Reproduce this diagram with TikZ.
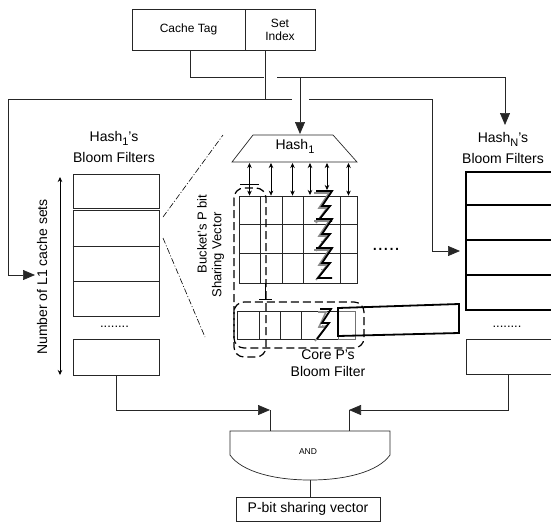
\documentclass[tikz,border=0pt]{standalone}
\usepackage{fontspec}
\setmainfont{Liberation Sans}
\usetikzlibrary{arrows.meta}
\begin{document}
\begin{tikzpicture}[x=1pt,y=-1pt,
  ln/.style={line width=0.7pt, draw=black!85},
  box/.style={draw=black!85, line width=0.7pt, inner sep=0pt},
  tbox/.style={draw=black, line width=1.6pt, inner sep=0pt},
  cell/.style={draw=black!85, line width=0.8pt, inner sep=0pt},
  big/.style={-{Triangle[length=12pt,width=10pt]}, line width=0.7pt, draw=black!85},
  dbl/.style={{Stealth[length=5pt,width=4.5pt]}-{Stealth[length=5pt,width=4.5pt]}, line width=0.6pt},
  lbl/.style={font=\fontsize{14}{21}\selectfont, align=center, inner sep=0pt},
  dashbox/.style={dash pattern=on 8pt off 4pt, line width=1.2pt, rounded corners=10pt},
  ddot/.style={dash pattern=on 6pt off 2pt on 1pt off 2pt, line width=0.6pt},
  bolt/.style={line width=1.8pt, line join=miter},
  shade/.style={line width=1.6pt, draw=black!45}
]
\useasboundingbox (0,0) rectangle (551,523);
\clip (0,0) rectangle (551,523);

% address fields
\node[box, minimum width=113pt, minimum height=41pt, font=\fontsize{12}{14}\selectfont] (tag) at (188.5,30) {\raisebox{3pt}{Cache Tag}};
\node[box, minimum width=70pt, minimum height=41pt, align=center, font=\fontsize{12}{13}\selectfont] (idx) at (280,30) {Set\\Index};
\coordinate (idxout) at (265.5,51);
\coordinate (tagout) at (190,51);

% left bloom filters
\node[lbl] (l1lab) at (114,147) {Hash\raisebox{-4pt}{\fontsize{11}{11}\selectfont 1}'s\\Bloom Filters};
\node[box, minimum width=86pt, minimum height=34pt] (lb1) at (116,191) {};
\node[box, minimum width=86pt, minimum height=36pt] (lb2) at (116,228) {};
\node[box, minimum width=86pt, minimum height=35pt] (lb3) at (116,263.5) {};
\node[box, minimum width=86pt, minimum height=35pt] (lb4) at (116,298.5) {};
\node[box, minimum width=86pt, minimum height=36pt] (lbN) at (116,357) {};
\draw[line width=1.4pt, black!85] (lb2.south west) -- (lb2.south east);
\node[font=\fontsize{13}{13}\selectfont, inner sep=0pt, anchor=base] (ldots) at (114.5,327) {........};
\draw[dbl] (60,177) -- (60,375);
\node[rotate=90, font=\fontsize{14}{14}\selectfont, inner sep=0pt] (nl1) at (42,277) {Number of L1 cache sets};

% right bloom filters
\node[lbl] (rlab) at (503,148) {Hash\raisebox{-4pt}{\fontsize{11}{11}\selectfont N}'s\\Bloom Filters};
\node[tbox, minimum width=90pt, minimum height=33pt] (rb1) at (511,188.5) {};
\node[tbox, minimum width=90pt, minimum height=35pt] (rb2) at (511,222.5) {};
\node[tbox, minimum width=90pt, minimum height=35pt] (rb3) at (511,257.5) {};
\node[tbox, minimum width=90pt, minimum height=35pt] (rb4) at (511,292.5) {};
\node[box, minimum width=90pt, minimum height=35pt] (rbN) at (511,356.5) {};
\node[font=\fontsize{13}{13}\selectfont, inner sep=0pt, anchor=base] (rdots) at (507,327) {........};

% Hash1 trapezoid
\coordinate (t1) at (253,135);
\coordinate (t2) at (333,135);
\coordinate (t3) at (357,162);
\coordinate (t4) at (232,162);
\draw[ln] (t1) -- (t2) -- (t3) -- (t4) -- cycle;
\node[font=\fontsize{14}{14}\selectfont, inner sep=0pt] (h1) at (295,146) {Hash\raisebox{-4pt}{\fontsize{11}{11}\selectfont 1}};
\coordinate (h1top) at (300,134);
\coordinate (h1bot) at (300,163);

% bucket grid
\foreach \r/\y/\h in {1/210/28, 2/238.5/29, 3/268/30} {
  \node[cell, minimum width=21pt, minimum height=\h pt] (c1-\r) at (249.5,\y) {};
  \node[cell, minimum width=22pt, minimum height=\h pt] (c2-\r) at (271,\y) {};
  \node[cell, minimum width=21pt, minimum height=\h pt] (c3-\r) at (292.5,\y) {};
  \node[cell, minimum width=17pt, minimum height=\h pt] (c6-\r) at (348.5,\y) {};
}
\foreach \y in {196,224,253,283} \draw[ln] (303,\y) -- (340,\y);
\foreach \t in {196,224,253} {
  \draw[shade] (314,{\t-3}) -- (329,{\t-3}) -- (319,{\t+12}) -- (327,{\t+12}) -- (316,{\t+27});
  \draw[bolt] (316,{\t-5}) -- (332,{\t-5}) -- (322,{\t+10}) -- (330,{\t+10}) -- (318,{\t+25}) -- (332,{\t+25});
}
\node[font=\fontsize{8}{8}\selectfont, inner sep=0pt] (gd1) at (323,242) {..};
\node[font=\fontsize{8}{8}\selectfont, inner sep=0pt] (gd2) at (323,270) {..};

% arrows hash -> grid
\draw[dbl] (c1-1.north |- h1bot) -- (c1-1.north);
\draw[dbl] (c2-1.north |- h1bot) -- (c2-1.north);
\draw[dbl] (c3-1.north |- h1bot) -- (c3-1.north);
\draw[dbl] (310,163) -- (310,195);
\draw[dbl] (327,163) -- (327,190);
\draw[dbl] (c6-1.north |- h1bot) -- (c6-1.north);
\draw[line width=1pt] (240,184) -- (259,184);
\draw[line width=1pt] (265,283) -- (265,299);
\draw[line width=1pt] (259,299) -- (272,299);

% core row
\node[cell, minimum width=22pt, minimum height=28pt] (k1) at (248,325) {};
\node[cell, minimum width=21pt, minimum height=28pt] (k2) at (269.5,325) {};
\node[cell, minimum width=21pt, minimum height=28pt] (k3) at (290.5,325) {};
\node[cell, draw=black!55, minimum width=17pt, minimum height=28pt] (k6) at (346.5,325) {};
\draw[ln] (301,311) -- (338,311);
\draw[ln] (301,339) -- (338,339);
\draw[shade] (318,312) -- (326,312) -- (319,327) -- (326,327) -- (315,341);
\draw[bolt] (320,309) -- (331,309) -- (322,323) -- (329,323) -- (317,339);
\node[font=\fontsize{8}{8}\selectfont, inner sep=0pt] (gd3) at (324,326) {..};
\draw[line width=1.8pt, line join=miter] (338,308) -- (459,304) -- (459,333) -- (338,336) -- cycle;

% dashed groupings
\draw[dashbox] (234,188) rectangle (266,357);
\draw[dashbox] (234,302) rectangle (364,348);
\node[rotate=90, font=\fontsize{13}{13}\selectfont, inner sep=0pt] (bk1) at (202,234) {Bucket's P bit};
\node[rotate=90, font=\fontsize{13}{13}\selectfont, inner sep=0pt] (bk2) at (218,255) {Sharing Vector};
\node[lbl, font=\fontsize{14}{17}\selectfont] (core) at (328,363.5) {Core P's\\Bloom Filter};
\node[font=\fontsize{20}{20}\selectfont, inner sep=0pt, anchor=base] (mdots) at (386,250) {.....};

% zoom lines
\draw[ddot] (163,217) -- (223,135);
\draw[ddot] (163,238) -- (205,337);

% address wiring
\draw[ln] (tagout) |- (264,77);
\draw[big] (277,77) -| (505,125);
\draw[big] (300,77) -- (h1top);
\draw[ln] (idxout) -- (265.5,99);
\coordinate (lin) at (35,275);
\draw[big] (265.5,99) -- (8,99) -- (8,275) -- (lin);
\draw[ln] (265.5,99) -- (292,99);
\coordinate (rin) at (460,251);
\draw[big] (309,99) -| (432,251) -- (rin);

% AND gate
\draw[ln] (230,431) -- (390,431) -- (390,455) .. controls (378,472) and (345,480) .. (310,480) .. controls (275,480) and (242,472) .. (230,455) -- cycle;
\node[font=\fontsize{8.5}{9}\selectfont, inner sep=0pt] (and) at (308,452) {AND};
\coordinate (andL) at (270,410);
\coordinate (andR) at (349,410);
\draw[big] (lbN.south) |- (andL);
\draw[ln] (andL) -- (270,431);
\draw[big] (508,374) |- (andR);
\draw[ln] (andR) -- (349,431);

% output
\node[box, minimum width=144pt, minimum height=24pt, font=\fontsize{14}{14}\selectfont] (pbit) at (308,509) {P-bit sharing vector};
\draw[ln] (310,480) -- (310,497);
\end{tikzpicture}
\end{document}
